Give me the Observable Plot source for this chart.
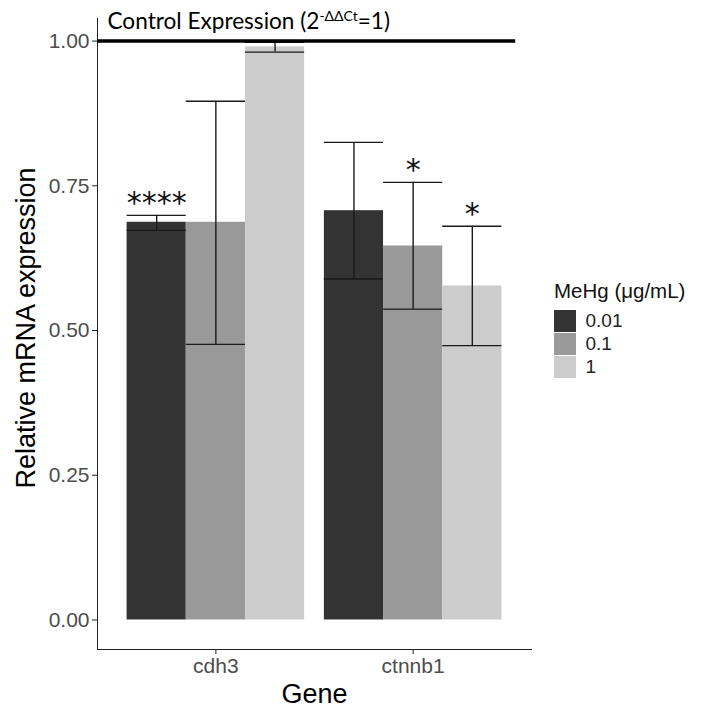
<!DOCTYPE html>
<html><head><meta charset="utf-8">
<script src="https://cdn.jsdelivr.net/npm/d3@7"></script>
<script src="https://cdn.jsdelivr.net/npm/@observablehq/plot@0.6"></script>
<style>
body{margin:0;background:#fff;}
#wrap{position:relative;width:704px;height:714px;overflow:hidden;font-family:"Liberation Sans",Arial,sans-serif;}
#legend{position:absolute;left:554px;top:279px;}
#legend .ttl{font-size:20.5px;color:#111;line-height:24px;margin-bottom:7px;}
</style>
</head><body><div id="wrap"><div id="legend"><div class="ttl">MeHg (μg/mL)</div></div></div>
<script>
// ---- data ----
const genes = ["cdh3", "ctnnb1"];
const doses = ["0.01", "0.1", "1"];
const fills = ["#333333", "#999999", "#cccccc"];
const meanCdh3 = [0.687, 0.687, 0.990];
const lowCdh3 = [0.673, 0.476, 0.981];
const highCdh3 = [0.699, 0.896, 0.998];
const meanCtnnb1 = [0.707, 0.646, 0.577];
const lowCtnnb1 = [0.589, 0.537, 0.474];
const highCtnnb1 = [0.825, 0.756, 0.680];
const sigCdh3 = ["****", "", ""];
const sigCtnnb1 = ["", "*", "*"];
const yTicks = [0, 0.25, 0.5, 0.75, 1];
const controlValue = 1;
const controlLabel = "Control Expression (2-ΔΔCt=1)";

// ---- table ----
const dodge = 0.3;
const series = {
  cdh3: {mean: meanCdh3, lo: lowCdh3, hi: highCdh3, sig: sigCdh3},
  ctnnb1: {mean: meanCtnnb1, lo: lowCtnnb1, hi: highCtnnb1, sig: sigCtnnb1}
};
const rows = [];
genes.forEach((g, gi) => doses.forEach((d, di) => {
  const s = series[g];
  rows.push({gene: g, dose: d, mean: s.mean[di], lo: s.lo[di], hi: s.hi[di], sig: s.sig[di],
             pos: gi + (di - 1) * dodge});
}));
const half = dodge / 2;

const plot = Plot.plot({
  width: 704,
  height: 714,
  marginLeft: 97,
  marginRight: 173,
  marginTop: 18,
  marginBottom: 65,
  style: {fontSize: "21px", fontFamily: "'Liberation Sans', Arial, sans-serif", background: "#fff", color: "#222"},
  x: {domain: [-0.6, 1.6], ticks: [0, 1], tickFormat: i => genes[i], tickSize: 5, tickPadding: 4, line: true, label: null},
  y: {domain: [-0.051, 1.039], ticks: yTicks, tickFormat: d3.format(".2f"), tickSize: 5, tickPadding: 3, line: true, label: null},
  color: {domain: doses, range: fills, type: "ordinal"},
  marks: [
    Plot.rect(rows, {x1: d => d.pos - half, x2: d => d.pos + half, y1: 0, y2: "mean", fill: "dose"}),
    Plot.ruleX(rows, {x: "pos", y1: "lo", y2: "hi", stroke: "#1a1a1a", strokeWidth: 1.4}),
    Plot.ruleY(rows, {y: "hi", x1: d => d.pos - half, x2: d => d.pos + half, stroke: "#1a1a1a", strokeWidth: 1.4}),
    Plot.ruleY(rows, {y: "lo", x1: d => d.pos - half, x2: d => d.pos + half, stroke: "#1a1a1a", strokeWidth: 1.4}),
    Plot.ruleY([controlValue], {x1: -0.6, x2: 1.52, stroke: "#000", strokeWidth: 3.5}),
    Plot.text(rows.filter(d => d.sig), {x: "pos", y: "hi", text: "sig", dy: -12, fontSize: 30, fontFamily: "'DejaVu Sans', sans-serif", fill: "#111"}),
    Plot.text([controlLabel], {frameAnchor: "top-left", textAnchor: "start", lineAnchor: "middle", dx: 10, dy: 3.5, fontSize: 22.6, fontFamily: "Lato, 'Open Sans', sans-serif", fill: "#000"}),
    Plot.text(["Relative mRNA expression"], {frameAnchor: "left", textAnchor: "middle", lineAnchor: "middle", rotate: -90, dx: -71, dy: -6, fontSize: 27, fill: "#000"}),
    Plot.text(["Gene"], {frameAnchor: "bottom", textAnchor: "middle", lineAnchor: "middle", dy: 45, fontSize: 27, fill: "#000"})
  ]
});

// axis text colour
d3.select(plot).selectAll('g[aria-label*="axis"] text').attr("fill", "#4d4d4d");
d3.select(plot).selectAll('g[aria-label*="axis"] path, g[aria-label*="axis"] line').attr("stroke", "#222");

// superscript in control label
d3.select(plot).selectAll("text").each(function() {
  if (this.textContent === controlLabel) {
    const t = d3.select(this);
    t.text(null);
    t.append("tspan").text("Control Expression (2");
    t.append("tspan").attr("font-size", 14).attr("dy", -8).text("-ΔΔCt");
    t.append("tspan").attr("dy", 8).text("=1)");
  }
});

document.getElementById("wrap").prepend(plot);
plot.style.position = "absolute"; plot.style.left = "0"; plot.style.top = "0";

const leg = plot.legend("color", {columns: 1, swatchSize: 22, style: {fontSize: "19px", fontFamily: "'Liberation Sans', Arial, sans-serif", color: "#222"}});
document.getElementById("legend").appendChild(leg);
</script>
</body></html>
